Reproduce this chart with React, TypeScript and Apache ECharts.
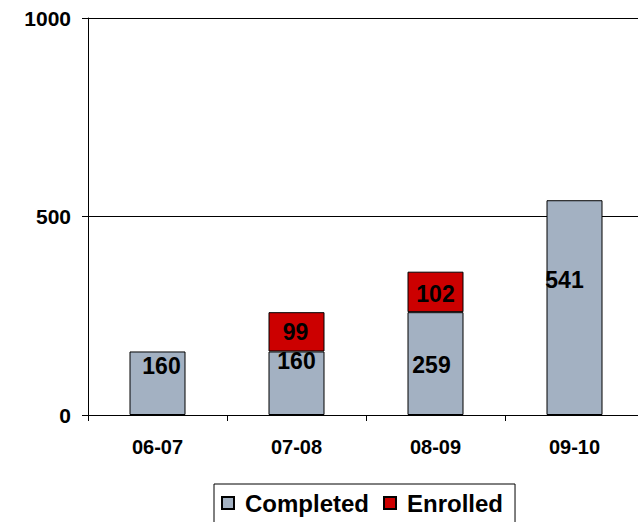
import React, { useEffect, useRef } from "react";
import * as echarts from "echarts";

const categories = ["06-07", "07-08", "08-09", "09-10"];
const completed = [160, 160, 259, 541];
const enrolled: (number | null)[] = [null, 99, 102, null];
const yTicks = [0, 500, 1000];

// label nudges (px) to mimic the original's label placement
const completedLabelOffsets = [[4, -17], [0, -22], [-4, 1], [-10, -28]];
const enrolledLabelOffsets = [[0, 0], [-1, 0], [0, 2], [0, 0]];

const FONT = "'Liberation Sans', Arial, sans-serif";

export default function App() {
  const ref = useRef<HTMLDivElement>(null);
  useEffect(() => {
    if (!ref.current) return;
    const chart = echarts.init(ref.current, null, { renderer: "svg" });
    const labelBase = {
      show: true,
      position: "inside",
      fontFamily: FONT,
      fontWeight: "bold",
      fontSize: 23,
      color: "#000",
    };
    chart.setOption({
      animation: false,
      textStyle: { fontFamily: FONT },
      grid: {
        left: 88,
        top: 18,
        width: 556,
        bottom: 107,
        outerBoundsMode: "none",
        containLabel: false,
      },
      legend: {
        data: ["Completed", "Enrolled"],
        left: 214,
        top: 484,
        padding: [7, 12, 12, 7],
        borderColor: "#000",
        borderWidth: 1,
        itemWidth: 24,
        itemHeight: 12,
        itemGap: 14,
        icon: "path://M0,0H10V10H0Z",
        textStyle: {
          fontFamily: FONT,
          fontWeight: "bold",
          fontSize: 24,
          color: "#000",
        },
      },
      xAxis: {
        type: "category",
        data: categories,
        axisLine: { show: true, lineStyle: { color: "#000", width: 1 } },
        axisTick: { show: true, length: 6, lineStyle: { color: "#000" } },
        axisLabel: {
          margin: 22,
          fontFamily: FONT,
          fontWeight: "bold",
          fontSize: 20,
          color: "#000",
        },
      },
      yAxis: {
        type: "value",
        min: yTicks[0],
        max: yTicks[yTicks.length - 1],
        interval: yTicks[1] - yTicks[0],
        axisLine: { show: true, lineStyle: { color: "#000", width: 1 } },
        axisTick: { show: true, length: 6, lineStyle: { color: "#000" } },
        splitLine: { show: true, lineStyle: { color: "#000", width: 1 } },
        axisLabel: {
          margin: 17,
          formatter: (v: number) => String(v),
          fontFamily: FONT,
          fontWeight: "bold",
          fontSize: 21,
          color: "#000",
        },
      },
      series: [
        {
          name: "Completed",
          type: "bar",
          stack: "total",
          barWidth: 56,
          itemStyle: { color: "#A3B1C2", borderColor: "#000", borderWidth: 1 },
          label: labelBase,
          data: completed.map((v, i) => ({
            value: v,
            label: { offset: completedLabelOffsets[i] },
          })),
        },
        {
          name: "Enrolled",
          type: "bar",
          stack: "total",
          barWidth: 56,
          itemStyle: { color: "#CC0000", borderColor: "#000", borderWidth: 1 },
          label: labelBase,
          data: enrolled.map((v, i) => ({
            value: v,
            label: { offset: enrolledLabelOffsets[i] },
          })),
        },
      ],
    });
    return () => chart.dispose();
  }, []);
  return <div ref={ref} style={{ width: 638, height: 522, position: "absolute", left: 0, top: 0 }} />;
}
